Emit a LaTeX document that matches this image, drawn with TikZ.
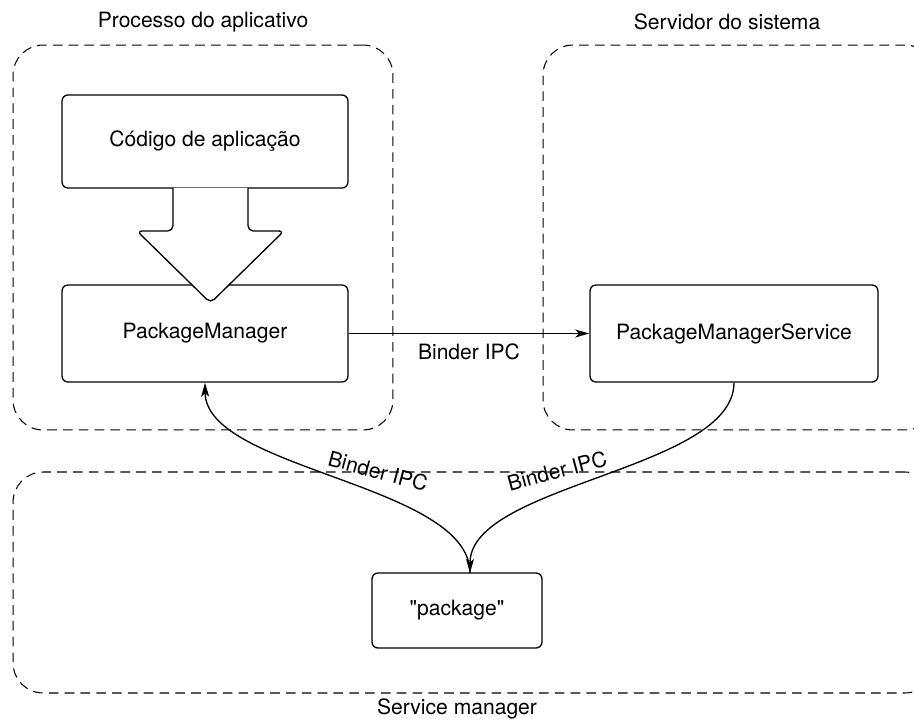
\documentclass[tikz,border=0pt]{standalone}
\usepackage{fontspec}
\setmainfont{TeX Gyre Heros}[Ligatures=TeXOff]
\usetikzlibrary{arrows.meta}

\begin{document}
\begin{tikzpicture}[x=0.02cm, y=-0.02cm, every node/.style={font=\fontsize{12}{14}\selectfont}]

      \tikzset{region/.style = {draw, dash pattern=on 5.5pt off 3.5pt, line width=0.6pt, rounded corners=0.6cm}}
      \tikzset{block/.style = {draw, line width=0.75pt, rounded corners=0.12cm}}
      \tikzset{edge/.style = {-{Stealth[length=8pt,width=4.5pt,inset=2pt]}, line width=0.75pt}}
      \clip (0,0) rectangle (914,723);
      % regions
      \node[region, minimum width=7.6cm, minimum height=7.7cm] (app) at (203,237.5) {};
      \node[region, minimum width=7.84cm, minimum height=7.7cm] (sys) at (739,237.5) {};
      \node[region, minimum width=18.44cm, minimum height=4.42cm] (sm) at (474,582.5) {};
      \node (apptitle) at (203,22) {Processo do aplicativo};
      \node (systitle) at (727,22) {Servidor do sistema};
      \node (smtitle) at (457,709) {Service manager};
      % blocks
      \node[block, minimum width=5.72cm, minimum height=1.86cm] (code) at (205,141.5) {Código de aplicação};
      \node[block, minimum width=5.72cm, minimum height=1.94cm] (pm) at (205,333.5) {PackageManager};
      \node[block, minimum width=5.76cm, minimum height=1.94cm] (pms) at (734,333.5) {PackageManagerService};
      \node[block, minimum width=3.4cm, minimum height=1.5cm] (pkg) at (457,610.5) {"package"};
      \coordinate (pkgin) at (470,573);
      % call arrow
      \draw[line width=0.75pt, fill=white, rounded corners=3pt]
        (173,188) -- (173,231) -- (137,231) -- (210.5,303) -- (284,231) -- (248,231) -- (248,188);
      %edges
      \draw[edge] (pm.east) -- node[below=2pt] {Binder IPC} (pms.west);
      \draw[edge] (pms.south) .. controls (734,470) and (470,484) .. (pkgin);
      \draw[edge] (pkgin) .. controls (470,484) and (206,470) .. (pm.south);
      \node[rotate=-15] (ipcleft) at (378,471) {Binder IPC};
      \node[rotate=15] (ipcright) at (557,471) {Binder IPC};

\end{tikzpicture}
\end{document}
